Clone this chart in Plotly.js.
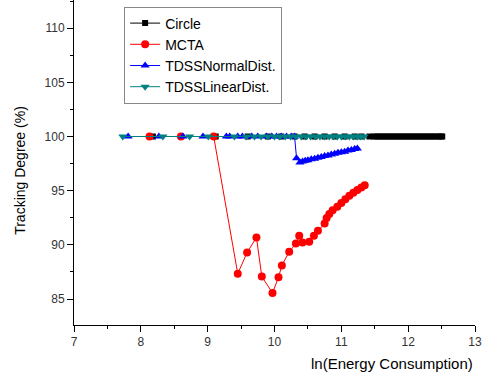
<!DOCTYPE html>
<html>
<head>
<meta charset="utf-8">
<script src="https://cdn.plot.ly/plotly-3.0.1.min.js"></script>
<style>html,body{margin:0;padding:0;background:#fff;}#chart{width:489px;height:381px;}</style>
</head>
<body>
<div id="chart"></div>
<script>
const circleX = [8.18, 9.12, 9.6, 9.9, 10.1, 10.3, 10.45, 10.6, 10.75, 10.9, 11.05, 11.2, 11.3, 11.42,
  11.49, 11.53, 11.57, 11.61, 11.65, 11.69, 11.73, 11.77, 11.81, 11.85, 11.89, 11.93, 11.97, 12.01,
  12.05, 12.09, 12.13, 12.17, 12.21, 12.25, 12.29, 12.33, 12.37, 12.41, 12.45, 12.49, 12.51];
const circleY = [100, 100, 100, 100, 100, 100, 100, 100, 100, 100, 100, 100, 100, 100,
  100, 100, 100, 100, 100, 100, 100, 100, 100, 100, 100, 100, 100, 100,
  100, 100, 100, 100, 100, 100, 100, 100, 100, 100, 100, 100, 100];

const mctaX = [8.13, 8.6, 9.09, 9.45, 9.59, 9.73, 9.81, 9.97, 10.06, 10.11, 10.22, 10.32, 10.37, 10.42,
  10.52, 10.59, 10.65, 10.75, 10.78, 10.82, 10.87, 10.94, 11.0, 11.06, 11.12, 11.18, 11.24, 11.3, 11.35];
const mctaY = [100, 100, 100, 87.34, 89.29, 90.68, 87.07, 85.56, 87.0, 88.1, 89.35, 90.12, 90.83, 90.21,
  90.28, 90.83, 91.3, 91.98, 92.47, 92.84, 93.2, 93.52, 93.86, 94.2, 94.54, 94.8, 95.06, 95.3, 95.5];

const normalX = [7.81, 8.27, 8.63, 8.93, 9.28, 9.33, 9.45, 9.52, 9.66, 9.75, 9.88, 9.96, 10.03, 10.1,
  10.18, 10.25, 10.3, 10.33, 10.38, 10.42, 10.46, 10.5, 10.55, 10.6, 10.65, 10.7, 10.75, 10.8, 10.85,
  10.9, 10.95, 11.0, 11.05, 11.1, 11.15, 11.2, 11.24];
const normalY = [100, 100, 100, 100, 100, 100, 100, 100, 100, 100, 100, 100, 100, 100,
  100, 100, 100, 98.0, 97.6, 97.7, 97.75, 97.8, 97.9, 97.95, 98.05, 98.1, 98.2, 98.25, 98.35,
  98.4, 98.5, 98.55, 98.6, 98.7, 98.75, 98.85, 98.9];

const linearX = [7.73, 8.33, 8.73, 9.01, 9.4, 9.58, 9.7, 9.8, 9.9, 10.0, 10.08, 10.16, 10.24, 10.32,
  10.4, 10.47, 10.54, 10.61, 10.68, 10.75, 10.82, 10.88, 10.94, 11.0, 11.06, 11.12, 11.18, 11.24, 11.29, 11.34];
const linearY = [100, 100, 100, 100, 100, 100, 100, 100, 100, 100, 100, 100, 100, 100,
  100, 100, 100, 100, 100, 100, 100, 100, 100, 100, 100, 100, 100, 100, 100, 100];

const seriesNames = ["Circle", "MCTA", "TDSSNormalDist.", "TDSSLinearDist."];
const xTitle = "ln(Energy Consumption)";
const yTitle = "Tracking Degree (%)";

const FONT = "Liberation Sans, Arial, sans-serif";

const traces = [
  {x: circleX, y: circleY, name: seriesNames[0], mode: "lines+markers",
   line: {color: "#000000", width: 1}, marker: {symbol: "square", size: 6, color: "#000000"}},
  {x: mctaX, y: mctaY, name: seriesNames[1], mode: "lines+markers",
   line: {color: "#ff0000", width: 1}, marker: {symbol: "circle", size: 8, color: "#ff0000"}},
  {x: normalX, y: normalY, name: seriesNames[2], mode: "lines+markers",
   line: {color: "#0000ff", width: 1}, marker: {symbol: "triangle-up", size: 8, color: "#0000ff"}},
  {x: linearX, y: linearY, name: seriesNames[3], mode: "lines+markers",
   line: {color: "#008080", width: 1}, marker: {symbol: "triangle-down", size: 8, color: "#008080"}}
];

const axisCommon = {
  showline: true, linecolor: "#000", linewidth: 1, mirror: false,
  ticks: "outside", ticklen: 6, tickwidth: 1, tickcolor: "#000",
  showgrid: false, zeroline: false,
  tickfont: {family: FONT, size: 12, color: "#333"}
};

const layout = {
  width: 489, height: 381,
  margin: {l: 74, r: 14, t: 0, b: 56},
  paper_bgcolor: "#fff", plot_bgcolor: "#fff",
  showlegend: true,
  legend: {x: 0.125, y: 0.98, xanchor: "left", yanchor: "top",
    bordercolor: "#888", borderwidth: 1, bgcolor: "#fff",
    font: {family: FONT, size: 14, color: "#000"},
    tracegroupgap: 0},
  xaxis: Object.assign({}, axisCommon, {range: [7, 13], dtick: 1, tick0: 7,
    minor: {ticks: "outside", ticklen: 3, tickcolor: "#000", tickwidth: 1, dtick: 0.5}}),
  yaxis: Object.assign({}, axisCommon, {range: [82.6, 112.6], dtick: 5, tick0: 85,
    minor: {ticks: "outside", ticklen: 3, tickcolor: "#000", tickwidth: 1, dtick: 2.5}}),
  annotations: [
    {text: xTitle, xref: "paper", yref: "paper",
     x: 1, y: -0.118, xanchor: "right", yanchor: "middle", showarrow: false,
     font: {family: FONT, size: 15, color: "#000"}},
    {text: yTitle, xref: "paper", yref: "paper", textangle: -90,
     x: -0.135, y: 0.477, xanchor: "center", yanchor: "middle", showarrow: false,
     font: {family: FONT, size: 14, color: "#000"}}
  ]
};

Plotly.newPlot("chart", traces, layout, {displayModeBar: false, staticPlot: true});
</script>
</body>
</html>
